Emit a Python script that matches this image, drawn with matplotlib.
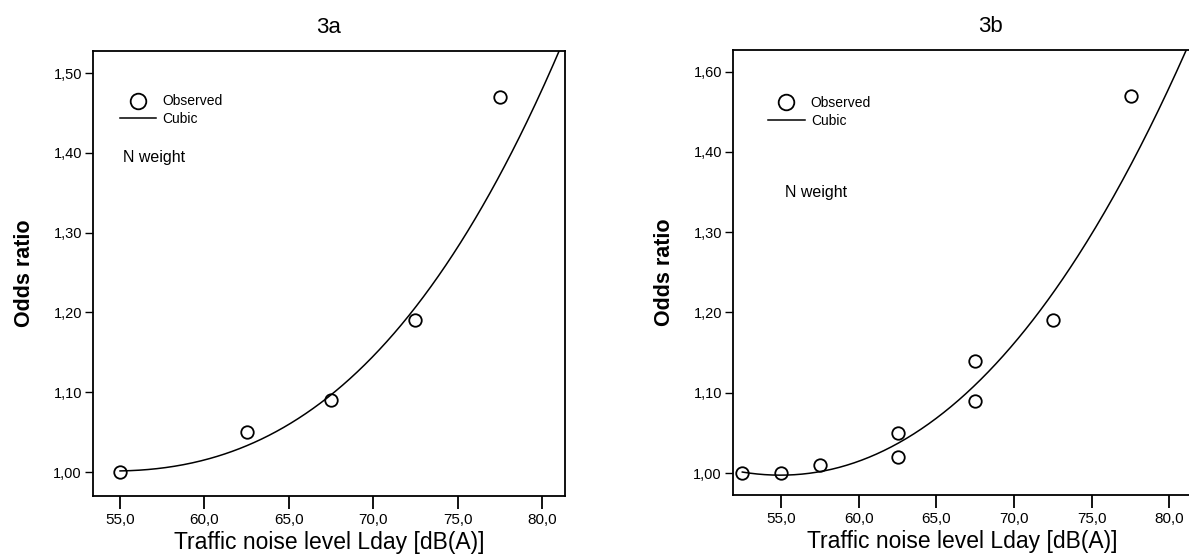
import numpy as np
import matplotlib
matplotlib.use('Agg')
import matplotlib.pyplot as plt

plt.rcParams['font.family'] = ['Liberation Sans', 'DejaVu Sans']

# ── Observed odds ratios ─────────────────────────────────────
obs_a_x = [55.0, 62.5, 67.5, 72.5, 77.5]
obs_a_y = [1.00, 1.05, 1.09, 1.19, 1.47]

obs_b_x = [52.5, 55.0, 57.5, 62.5, 62.5, 67.5, 67.5, 72.5, 77.5]
obs_b_y = [1.00, 1.00, 1.01, 1.05, 1.02, 1.14, 1.09, 1.19, 1.47]

# ── Cubic fit curve ──────────────────────────────────────────
curve_a_x = [55.0, 60.0, 62.5, 65.0, 67.5, 70.0, 72.5, 75.0, 77.5, 80.0, 81.1]
curve_a_y = [1.001, 1.015, 1.035, 1.060, 1.096, 1.143, 1.206, 1.282, 1.375, 1.480, 1.530]

curve_b_x = [52.5, 55.0, 57.5, 60.0, 62.5, 65.0, 67.5, 70.0, 72.5, 75.0, 77.5, 80.0, 81.2]
curve_b_y = [0.998, 0.999, 1.005, 1.016, 1.038, 1.068, 1.106, 1.157, 1.222, 1.300, 1.395, 1.480, 1.527]

x_ticks = [55.0, 60.0, 65.0, 70.0, 75.0, 80.0]
x_labels = ['55,0', '60,0', '65,0', '70,0', '75,0', '80,0']
y_ticks = [1.00, 1.10, 1.20, 1.30, 1.40, 1.50]
y_labels_a = ['1,00', '1,10', '1,20', '1,30', '1,40', '1,50']
y_labels_b = ['1,00', '1,10', '1,20', '1,30', '1,40', '1,60']

W, H = 1189, 558
fig = plt.figure(figsize=(W / 100, H / 100), dpi=100)


def px_axes(left, top, right, bottom):
    return fig.add_axes([left / W, 1 - bottom / H, (right - left) / W, (bottom - top) / H])


ax_a = px_axes(93, 51, 565, 496)
ax_b = px_axes(733, 50, 1192, 495)

panels = [
    (ax_a, obs_a_x, obs_a_y, curve_a_x, curve_a_y, (53.4, 81.36), (0.970, 1.5276),
     y_labels_a, '3a', 0.5, (0.043, 0.918), (0.063, 0.760)),
    (ax_b, obs_b_x, obs_b_y, curve_b_x, curve_b_y, (51.9, 81.45), (0.9726, 1.527),
     y_labels_b, '3b', 0.56, (0.062, 0.912), (0.113, 0.680)),
]

for ax, ox, oy, cx, cy, xlim, ylim, ylabs, title, tx, leg_pos, nw_pos in panels:
    # cubic through the curve points
    coef = np.polyfit(cx, cy, 3)
    xs = np.linspace(cx[0], cx[-1], 300)
    line, = ax.plot(xs, np.polyval(coef, xs), color='black', lw=1.1, label='Cubic')
    pts, = ax.plot(ox, oy, 'o', mfc='none', mec='black', mew=1.3, ms=9,
                   label='Observed', clip_on=False)

    ax.set_xlim(*xlim)
    ax.set_ylim(*ylim)
    ax.set_xticks(x_ticks)
    ax.set_xticklabels(x_labels)
    ax.set_yticks(y_ticks)
    ax.set_yticklabels(ylabs)
    ax.tick_params(axis='x', direction='out', length=9, width=1.3, labelsize=11, pad=3)
    ax.tick_params(axis='y', direction='out', length=6, width=1.0, labelsize=10.5, pad=2)
    for s in ax.spines.values():
        s.set_linewidth(1.3)

    ax.set_ylabel('Odds ratio', fontsize=15.5, fontweight='bold', labelpad=13)
    ax.set_xlabel('Traffic noise level Lday [dB(A)]', fontsize=16.5, labelpad=3)
    ax.set_title(title, fontsize=16, x=tx, pad=13)

    leg = ax.legend(handles=[pts, line], loc='upper left', bbox_to_anchor=leg_pos,
                    frameon=False, fontsize=10, handlelength=2.6, handletextpad=0.45,
                    labelspacing=0.25, borderpad=0, markerscale=1.25)
    ax.text(nw_pos[0], nw_pos[1], 'N weight', transform=ax.transAxes, fontsize=11.5,
            ha='left', va='center')

fig.savefig('out.png', dpi=100)
